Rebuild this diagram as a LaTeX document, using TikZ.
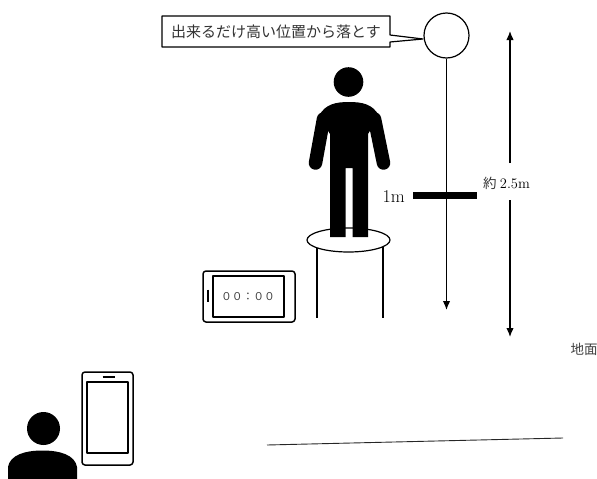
\documentclass[tikz,border=0pt]{standalone}
\usepackage{fontspec}
\newfontfamily\jp{Noto Sans CJK JP}
\usetikzlibrary{arrows.meta,shapes.geometric}
\begin{document}
\begin{tikzpicture}[x=1pt,y=-1pt,
  line join=round,
  thinline/.style={draw=black, line width=1.2pt},
  tipped/.style={-{Latex[length=9pt,width=7.5pt]}, line width=1.3pt},
  jptext/.style={font=\jp\fontsize{#1}{#1}\selectfont, text=black!80, inner sep=0pt},
  lmtext/.style={font=\fontsize{#1}{#1}\selectfont, inner sep=0pt},
  silhouette/.style={fill=black},
  devicebox/.style={draw=black, line width=1.5pt, rounded corners=3pt, fill=white}]
\useasboundingbox (0,0) rectangle (597,479);

% ---- callout and ball -------------------------------------------------
\node[circle, thinline, fill=white, minimum size=45pt, inner sep=0pt] (ball) at (446.5,35.5) {};
\draw[thinline, fill=white] (162,16) -- (390,16) -- (390,35) -- (423,39) -- (390,42)
      -- (390,47) -- (162,47) -- cycle;
\node[jptext=15] (callout) at (276,32) {出来るだけ高い位置から落とす};

% fall path of the ball
\coordinate (land) at (446.5,310);
\draw[tipped] (ball.south) -- (land);

% ---- stool with standing figure --------------------------------------
\draw[line width=2.5pt] (317,247) -- (317,318);
\draw[line width=2.5pt] (383,247) -- (383,318);
\node[ellipse, thinline, fill=white, minimum width=83pt, minimum height=24pt, inner sep=0pt] (seat) at (348.5,240) {};

\fill[silhouette] (348.5,82) circle[radius=14.8pt];
\fill[silhouette] (330,237) -- (330,134) -- (319,116)
   .. controls (325,104) and (336,102) .. (349,102)
   .. controls (362,102) and (373,104) .. (379,116)
   -- (368,134) -- (368,237) -- (352.5,237) -- (352.5,168) -- (345.5,168) -- (345.5,237) -- cycle;
\draw[line width=13.5pt, line cap=round] (323.5,119) -- (315.5,163);
\draw[line width=13.5pt, line cap=round] (374.5,119) -- (383.5,163);

% ---- 1 m marker -------------------------------------------------------
\fill[silhouette] (413,192) rectangle (477,198.5);
\node[lmtext=18, anchor=east] (onem) at (405,196.5) {1m};

% ---- height dimension ---------------------------------------------------
\node[inner sep=0pt] (dimlbl) at (506.5,183.5) {{\jp\fontsize{13.5}{13.5}\selectfont\color{black!80}約} {\fontsize{14.5}{14.5}\selectfont 2.5m}};
\coordinate (dimtop) at (510,31);
\coordinate (dimbot) at (510,337);
\coordinate (dimupper) at (510,163);
\coordinate (dimlower) at (510,200);
\draw[tipped] (dimupper) -- (dimtop);
\draw[tipped] (dimlower) -- (dimbot);

% ---- timer --------------------------------------------------------------
\draw[devicebox] (203,271) rectangle (295,322);
\draw[line width=1.3pt] (213,276) rectangle (284,317);
\draw[line width=2pt] (208,289.5) -- (208,301.5);
\node[jptext=10.8, text=black!75] (timer) at (248,296.5) {００：００};

% ---- observer with phone ---------------------------------------------
\fill[silhouette] (43.5,428.5) circle[radius=16.5pt];
\fill[silhouette] (8,479) -- (8,467)
   .. controls (10,455) and (25,450.5) .. (42.5,450.5)
   .. controls (60,450.5) and (75,455) .. (77,467) -- (77,479) -- cycle;
\draw[devicebox] (82,372) rectangle (133,465);
\draw[line width=1.5pt] (87,382) rectangle (128,453);
\draw[line width=2pt] (102.5,377) -- (114.5,377);

% ---- ground -------------------------------------------------------------
\coordinate (groundL) at (267,445);
\coordinate (groundR) at (563,438);
\draw[line width=0.9pt, black!85] (groundL) -- (groundR);
\node[jptext=13.5, text=black!75] (ground) at (584,349) {地面};
\end{tikzpicture}
\end{document}
